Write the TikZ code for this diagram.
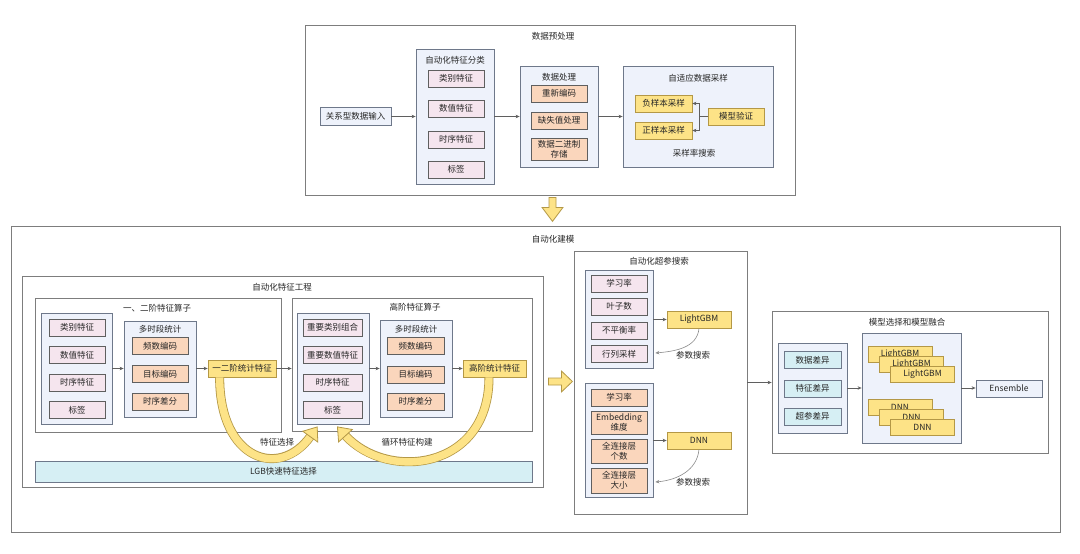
\documentclass[tikz,border=0pt]{standalone}
\usepackage{fontspec}
\newfontfamily\cjk{Noto Sans CJK SC}
\usepackage{tikz}
\usetikzlibrary{arrows.meta, calc}
\definecolor{frameline}{RGB}{125,125,125}
\definecolor{groupfill}{RGB}{238,242,251}
\definecolor{groupline}{RGB}{110,120,138}
\definecolor{itemline}{RGB}{95,95,95}
\definecolor{pinkfill}{RGB}{245,229,238}
\definecolor{orangefill}{RGB}{250,214,188}
\definecolor{yellowfill}{RGB}{253,227,135}
\definecolor{yellowline}{RGB}{180,152,70}
\definecolor{tealfill}{RGB}{214,239,244}
\definecolor{flowline}{RGB}{95,95,95}

\tikzset{
  every node/.style={font=\cjk\fontsize{8.5}{10}\selectfont, text=black!85, inner sep=0pt, align=center},
  frame/.style={draw=frameline, fill=white, line width=0.8pt},
  group/.style={draw=groupline, fill=groupfill, line width=0.8pt},
  item/.style={draw=itemline, line width=0.7pt, minimum width=56pt, minimum height=17pt},
  pinkbox/.style={item, fill=pinkfill},
  orangebox/.style={item, fill=orangefill},
  yellowbox/.style={item, draw=yellowline, fill=yellowfill},
  tealbox/.style={item, draw=groupline, fill=tealfill},
  flow/.style={draw=flowline, line width=0.7pt, -{Stealth[length=4pt,width=3.5pt]}},
  search/.style={draw=black!45, line width=0.6pt, -{Stealth[length=4pt,width=3.5pt]}},
  bigarrow/.style={draw=yellowline, fill=yellowfill, line width=0.8pt, line join=miter},
  fatedge/.style={draw=yellowline, line width=9pt},
  fatfill/.style={draw=yellowfill, line width=7.4pt,
    -{Triangle[width=20pt,length=13pt,line width=0.8pt,fill=yellowfill,color=yellowline]}},
}

\begin{document}
\begin{tikzpicture}[x=1pt, y=-1pt]
        \fill[white] (0,0) rectangle (1080,554);
        \useasboundingbox (0,0) rectangle (1080,554);

        % data preprocessing (top)
        \begin{scope}
            \node[frame, minimum width=490pt, minimum height=170pt] (pre) at (550,110) {};
            \node (pre-t) at (553,36) {数据预处理};
            \node[group, minimum width=71pt, minimum height=18pt] (input) at (355.5,116.5) {关系型数据输入};

            \node[group, minimum width=78pt, minimum height=135pt] (cls) at (455,116.5) {};
            \node (cls-t) at (455,60) {自动化特征分类};
            \node[pinkbox] (cls-a) at (456,78.5) {类别特征};
            \node[pinkbox] (cls-b) at (456,108.5) {数值特征};
            \node[pinkbox] (cls-c) at (456,139.5) {时序特征};
            \node[pinkbox] (cls-d) at (456,169.5) {标签};

            \node[group, minimum width=78pt, minimum height=101pt] (proc) at (559,116.5) {};
            \node (proc-t) at (559,77) {数据处理};
            \node[orangebox] (proc-a) at (559,93.5) {重新编码};
            \node[orangebox] (proc-b) at (559,120.5) {缺失值处理};
            \node[orangebox, minimum height=22pt] (proc-c) at (559,149) {数据二进制\\存储};

            \node[group, minimum width=150pt, minimum height=101pt] (samp) at (698,116.5) {};
            \node (samp-t) at (698,78) {自适应数据采样};
            \node[yellowbox, minimum width=57pt] (neg) at (663.5,103.5) {负样本采样};
            \node[yellowbox, minimum width=57pt] (pos) at (663.5,130.5) {正样本采样};
            \node[yellowbox] (check) at (736,116.5) {模型验证};
            \node (samp-n) at (694,153) {采样率搜索};

            \draw[flow] (input.east) -- (cls.west);
            \draw[flow] (cls.east) -- (proc.west);
            \draw[flow] (proc.east) -- (samp.west);
            \draw[flow] (check.west) -- ++(-8,0) |- (neg.east);
            \draw[flow] (check.west) -- ++(-8,0) |- (pos.east);
        \end{scope}

        % automatic modelling (bottom)
        \node[frame, minimum width=1049pt, minimum height=306pt] (model) at (535.5,379) {};
        \node (model-t) at (553,239) {自动化建模};
        \draw[bigarrow] ($(pre.south)+(-1,2)$) -- ++(7,0) -- ++(0,10) -- ++(7,0)
            -- ++(-10.5,14) -- ++(-10.5,-14) -- ++(7,0) -- cycle;

        % feature engineering
        \begin{scope}
            \node[frame, minimum width=521pt, minimum height=211pt] (fe) at (282.5,381.5) {};
            \node (fe-t) at (282,287) {自动化特征工程};

            \node[frame, minimum width=246pt, minimum height=134pt] (low) at (158,365) {};
            \node (low-t) at (157,308) {一、二阶特征算子};
            \node[group, minimum width=71pt, minimum height=111pt] (in1) at (76.5,368.5) {};
            \node[pinkbox] (in1-a) at (77,327.5) {类别特征};
            \node[pinkbox] (in1-b) at (77,355) {数值特征};
            \node[pinkbox] (in1-c) at (77,382.5) {时序特征};
            \node[pinkbox] (in1-d) at (77,410) {标签};
            \node[group, minimum width=72pt, minimum height=96pt] (ms1) at (160,369) {};
            \node (ms1-t) at (160,329) {多时段统计};
            \node[orangebox] (ms1-a) at (160,346) {频数编码};
            \node[orangebox] (ms1-b) at (160,374) {目标编码};
            \node[orangebox] (ms1-c) at (160,401.5) {时序差分};
            \node[yellowbox, minimum width=68pt] (out1) at (242,368.5) {一二阶统计特征};

            \node[frame, minimum width=240pt, minimum height=133pt] (high) at (412,364.5) {};
            \node (high-t) at (415,307) {高阶特征算子};
            \node[group, minimum width=72pt, minimum height=111pt] (in2) at (333,368.5) {};
            \node[pinkbox, minimum width=59pt] (in2-a) at (332.5,327.5) {重要类别组合};
            \node[pinkbox, minimum width=59pt] (in2-b) at (332.5,355) {重要数值特征};
            \node[pinkbox, minimum width=59pt] (in2-c) at (332.5,382.5) {时序特征};
            \node[pinkbox, minimum width=59pt] (in2-d) at (332.5,410) {标签};
            \node[group, minimum width=72pt, minimum height=97pt] (ms2) at (416,368.5) {};
            \node (ms2-t) at (416,329) {多时段统计};
            \node[orangebox, minimum width=57pt] (ms2-a) at (415.5,346) {频数编码};
            \node[orangebox, minimum width=57pt] (ms2-b) at (415.5,374.5) {目标编码};
            \node[orangebox, minimum width=57pt] (ms2-c) at (415.5,401.5) {时序差分};
            \node[yellowbox, minimum width=63pt] (out2) at (494.5,368.5) {高阶统计特征};

            \node[tealbox, minimum width=497pt, minimum height=21pt] (lgb) at (283.5,471.5) {LGB快速特征选择};

            \draw[flow] (in1.east) -- (in1.east -| ms1.west);
            \draw[flow] (out1.west -| ms1.east) -- (out1.west);
            \draw[flow] (out1.east) -- (out1.east -| high.west);
            \draw[flow] (in2.east) -- (in2.east -| ms2.west);
            \draw[flow] (out2.west -| ms2.east) -- (out2.west);

            % feature selection and loop back
            \draw[fatedge, shorten >=12pt] ($(out1.south west)+(12,0)$) .. controls +(0,83) and +(-38,53) .. ($(in2.south west)+(21,2)$);
            \draw[fatfill] ($(out1.south west)+(12,0)$) .. controls +(0,83) and +(-38,53) .. ($(in2.south west)+(21,2)$);
            \draw[fatedge, shorten >=12pt] ($(out2.south)+(-5.5,0)$) .. controls +(0,93) and +(50,55) .. ($(in2.south)+(4,2)$);
            \draw[fatfill] ($(out2.south)+(-5.5,0)$) .. controls +(0,93) and +(50,55) .. ($(in2.south)+(4,2)$);
            \node (sel-t) at (277,442) {特征选择};
            \node (loop-t) at (407,442) {循环特征构建};
        \end{scope}
        \draw[bigarrow] ($(fe.east)+(5,-3.5)$) -- ++(13,0) -- ++(0,-7) -- ++(11,10.5)
            -- ++(-11,10.5) -- ++(0,-7) -- ++(-13,0) -- cycle;

        % hyper-parameter search
        \begin{scope}
            \node[frame, minimum width=173pt, minimum height=263pt] (hp) at (660.5,382.5) {};
            \node (hp-t) at (659,261) {自动化超参搜索};
            \node[group, minimum width=68pt, minimum height=98pt] (gbmp) at (619,319) {};
            \node[pinkbox] (gbmp-a) at (619,283.5) {学习率};
            \node[pinkbox] (gbmp-b) at (619,306.5) {叶子数};
            \node[pinkbox] (gbmp-c) at (619,330.5) {不平衡率};
            \node[pinkbox] (gbmp-d) at (619,354) {行列采样};
            \node[yellowbox, minimum width=64pt] (gbm) at (699,319.5) {LightGBM};
            \node (gbm-s) at (693,355) {参数搜索};

            \node[group, minimum width=68pt, minimum height=114pt] (dnnp) at (619,440) {};
            \node[orangebox] (dnnp-a) at (619,397.5) {学习率};
            \node[orangebox, minimum height=23pt] (dnnp-b) at (619,422.5) {Embedding\\维度};
            \node[orangebox, minimum height=24pt] (dnnp-c) at (619,451) {全连接层\\个数};
            \node[orangebox, minimum height=25pt] (dnnp-d) at (619,480.5) {全连接层\\大小};
            \node[yellowbox, minimum width=64pt] (dnn) at (699,440.5) {DNN};
            \node (dnn-s) at (693,482) {参数搜索};

            \draw[flow] (gbm.west -| gbmp.east) -- (gbm.west);
            \draw[flow] (dnn.west -| dnnp.east) -- (dnn.west);
            \draw[search] (gbm.south) to[out=-95, in=5] ($(gbmp.east)+(2,34)$);
            \draw[search] (dnn.south) to[out=-95, in=5] ($(dnnp.east)+(2,42)$);
        \end{scope}

        % model selection and fusion
        \begin{scope}
            \node[frame, minimum width=276pt, minimum height=142pt] (mf) at (910,382) {};
            \node (mf-t) at (907,322) {模型选择和模型融合};
            \node[group, minimum width=69pt, minimum height=90pt] (div) at (812.5,388) {};
            \node[tealbox, minimum width=57pt] (div-a) at (812.5,360) {数据差异};
            \node[tealbox, minimum width=57pt] (div-b) at (812.5,388.5) {特征差异};
            \node[tealbox, minimum width=57pt] (div-c) at (812.5,416.5) {超参差异};

            \node[group, minimum width=99pt, minimum height=110pt] (pool) at (911.5,388) {};
            \node[yellowbox, minimum width=64pt, minimum height=16pt] (gbm1) at (900,354) {LightGBM};
            \node[yellowbox, minimum width=64pt, minimum height=16pt] (gbm2) at (911.5,364) {LightGBM};
            \node[yellowbox, minimum width=64pt, minimum height=16pt] (gbm3) at (922.5,374.5) {LightGBM};
            \node[yellowbox, minimum width=64pt, minimum height=16pt] (dnn1) at (900,407.5) {DNN};
            \node[yellowbox, minimum width=64pt, minimum height=16pt] (dnn2) at (911.5,417.5) {DNN};
            \node[yellowbox, minimum width=64pt, minimum height=16pt] (dnn3) at (922.5,427.5) {DNN};

            \node[group, minimum width=66pt, minimum height=17pt] (ens) at (1009,388.5) {Ensemble};

            \draw[flow] (hp.east) -- (hp.east -| mf.west);
            \draw[flow] (div.east) -- (pool.west);
            \draw[flow] (pool.east) -- (pool.east -| ens.west);
        \end{scope}
    \end{tikzpicture}
\end{document}
